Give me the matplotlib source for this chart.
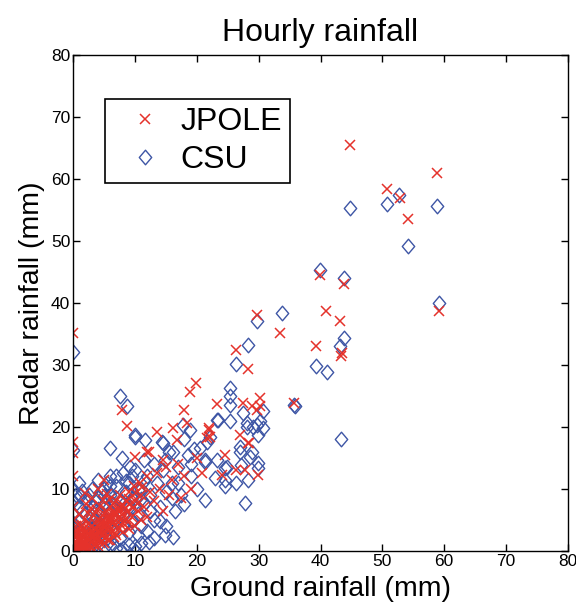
import numpy as np
import matplotlib
matplotlib.use("Agg")
import matplotlib.pyplot as plt
from matplotlib.path import Path

plt.rcParams['font.family'] = ['Liberation Sans', 'DejaVu Sans']

# hourly accumulations (ground gauge mm, radar mm)
jpole_pts = [
    # upper outliers
    (44.8, 65.5), (58.8, 60.9), (50.8, 58.4), (52.8, 56.9), (54.1, 53.5),
    (39.9, 44.5), (43.8, 43.0), (59.2, 38.7), (40.9, 38.7), (43.2, 37.1),
    (43.4, 31.9), (43.3, 31.5), (39.2, 33.1), (35.7, 23.8), (33.4, 35.1),
    (29.8, 38.1), (26.4, 32.4), (28.3, 29.4), (0.0, 35.2),
    # middle
    (19.9, 27.1), (18.9, 25.7), (23.2, 23.7), (17.9, 22.7), (27.5, 23.8),
    (29.7, 22.7), (30.2, 24.6), (28.9, 23.3), (30.2, 23.3), (21.9, 19.8),
    (22.1, 18.4), (16.2, 19.8), (18.4, 20.6), (24.6, 15.5), (27.0, 18.7),
    (28.3, 17.4), (11.9, 16.0), (10.0, 15.2), (14.6, 14.7), (16.8, 17.9),
    (21.6, 18.2), (21.9, 19.5), (28.5, 17.4), (26.4, 13.1), (27.8, 13.0),
    (29.9, 12.3), (24.0, 12.3), (20.8, 12.5), (7.9, 22.7), (8.7, 20.2),
    (13.5, 19.2), (12.2, 16.0), (0.0, 17.6), (0.0, 15.8), (1.9, 9.3),
    (0.0, 7.1), (19.0, 10.0), (20.0, 15.0), (17.5, 8.5), (18.0, 12.0),
    # dense cluster
    (0.0, 0.0), (0.2, 0.5), (0.3, 1.0), (0.5, 0.2), (0.5, 1.5), (0.8, 0.8),
    (1.0, 0.3), (1.0, 2.0), (1.2, 1.2), (1.5, 0.5), (1.5, 2.5), (1.8, 1.5),
    (2.0, 0.8), (2.0, 3.0), (2.2, 2.0), (2.5, 1.0), (2.5, 3.5), (2.8, 2.5),
    (3.0, 1.5), (3.0, 4.0), (3.2, 3.0), (3.5, 2.0), (3.5, 4.5), (3.8, 3.2),
    (4.0, 1.8), (4.0, 5.0), (4.2, 3.8), (4.5, 2.5), (4.5, 5.5), (4.8, 4.0),
    (5.0, 3.0), (5.0, 6.0), (5.2, 4.5), (5.5, 3.5), (5.5, 6.5), (5.8, 5.0),
    (6.0, 4.0), (6.0, 7.0), (6.2, 5.5), (6.5, 4.5), (6.5, 7.5), (6.8, 6.0),
    (7.0, 5.0), (7.0, 8.0), (7.2, 6.5), (7.5, 5.5), (7.5, 9.0), (7.8, 7.0),
    (8.0, 6.0), (8.0, 4.5), (8.5, 8.0), (8.8, 6.5), (9.0, 9.5), (9.2, 7.5),
    (9.5, 5.5), (9.8, 10.5), (10.0, 8.0), (10.5, 6.5), (10.8, 11.0),
    (11.0, 9.0), (11.5, 7.0), (12.0, 12.0), (12.5, 9.5), (13.0, 8.0),
    (13.5, 12.5), (14.0, 10.0), (14.5, 6.5), (15.0, 13.5), (15.5, 9.0),
    (16.0, 11.5), (17.0, 14.0), (0.1, 3.0), (0.2, 5.0), (0.5, 4.0),
    (1.0, 6.0), (2.0, 7.5), (3.0, 8.5), (4.0, 10.0), (5.0, 11.5), (0.0, 12.0),
    (1.0, 0.0), (2.0, 0.2), (3.0, 0.5), (4.0, 0.8), (5.0, 1.2), (6.0, 1.8),
    (7.0, 2.5), (8.0, 3.0), (9.0, 3.5), (10.0, 4.0), (11.0, 5.0), (12.0, 5.5),
    (0.3, 0.0), (0.6, 0.6), (1.3, 0.9), (1.7, 0.3), (2.3, 1.4), (2.7, 0.6),
    (3.3, 2.4), (3.7, 1.1), (4.3, 2.9), (4.7, 1.6), (5.3, 2.2), (5.7, 4.2),
    (6.3, 3.1), (6.7, 2.8), (1.1, 1.6), (1.6, 1.1), (2.1, 2.6), (2.6, 1.9),
    (3.1, 2.2), (3.6, 3.6), (4.1, 3.1), (4.6, 4.6), (5.1, 3.9), (5.6, 5.6),
    (6.1, 4.9), (6.6, 6.4), (7.1, 5.9), (7.6, 6.8), (8.1, 7.4), (8.6, 5.2),
    (9.1, 8.4), (9.6, 6.9), (10.2, 9.4), (10.7, 7.9), (11.2, 10.3),
    (0.4, 2.2), (0.9, 3.1), (1.4, 4.1), (1.9, 5.2), (2.4, 6.1), (2.9, 6.9),
    (3.4, 5.8), (3.9, 6.6), (4.4, 7.3), (4.9, 8.2), (5.4, 9.1), (5.9, 8.4),
    (0.1, 0.3), (0.4, 1.2), (0.7, 1.9), (1.2, 2.7), (1.6, 3.4), (2.1, 1.2),
    (2.4, 4.4), (2.9, 3.2), (3.3, 1.7), (3.6, 2.7), (4.1, 4.4), (4.4, 1.2),
    (4.9, 2.6), (5.4, 4.9), (5.9, 3.3), (6.4, 5.9), (6.9, 4.3), (7.4, 3.6),
    (7.9, 5.1), (8.4, 6.9), (0.6, 2.9), (1.3, 3.8), (1.8, 0.7), (2.6, 2.9),
    (3.4, 0.9), (4.6, 3.4), (5.6, 1.8), (6.6, 2.2), (7.7, 4.1), (8.9, 4.7),
]

csu_pts = [
    # upper outliers
    (44.7, 55.3), (50.8, 55.9), (52.7, 57.4), (58.8, 55.6), (54.2, 49.1),
    (39.9, 45.3), (43.8, 44.0), (59.2, 40.0), (43.8, 34.3), (43.2, 33.0),
    (39.2, 29.8), (41.0, 28.9), (35.7, 23.5), (43.3, 18.0), (33.7, 38.3),
    (29.8, 37.1), (28.3, 33.2), (26.3, 30.2), (25.4, 26.2), (25.4, 24.9),
    (35.9, 23.3), (0.0, 32.1), (7.6, 24.9), (8.7, 23.3),
    # middle
    (25.4, 23.5), (30.7, 22.5), (27.5, 22.2), (23.5, 21.1), (25.4, 20.9),
    (28.1, 20.6), (29.1, 20.0), (30.2, 20.9), (29.9, 18.7), (22.1, 18.4),
    (27.0, 16.8), (28.9, 16.0), (21.3, 14.7), (24.6, 13.3), (29.9, 13.3),
    (22.9, 11.7), (24.6, 10.4), (26.4, 10.9), (28.3, 11.5), (21.3, 8.2),
    (27.8, 7.7), (24.6, 11.5), (16.2, 2.3), (12.2, 1.5), (14.9, 14.7),
    (14.3, 17.6), (10.0, 18.7), (6.0, 16.6), (7.9, 15.0), (9.2, 13.6),
    (11.4, 14.7), (0.0, 16.3), (1.1, 8.8), (10.0, 18.4), (11.6, 17.9),
    (14.6, 17.4), (17.8, 20.3), (18.9, 19.5), (23.2, 21.1), (28.1, 20.0),
    (29.7, 20.3), (30.7, 19.8), (21.6, 17.6), (20.5, 16.6), (16.2, 16.0),
    (18.6, 15.5), (21.3, 14.4), (27.0, 16.0), (28.6, 15.2), (29.9, 14.1),
    (27.2, 13.9), (24.8, 13.6), (23.2, 14.7), (14.9, 2.6),
    # dense cluster
    (0.0, 0.5), (0.0, 1.5), (0.0, 3.0), (0.0, 4.5), (0.0, 6.0), (0.3, 0.2),
    (0.5, 2.0), (0.8, 1.0), (1.0, 3.5), (1.0, 5.0), (1.2, 0.3), (1.5, 2.5),
    (1.5, 6.5), (2.0, 1.0), (2.0, 4.0), (2.0, 8.0), (2.5, 2.5), (2.5, 5.5),
    (3.0, 0.5), (3.0, 3.5), (3.0, 7.0), (3.0, 10.0), (3.5, 2.0), (3.5, 5.0),
    (4.0, 1.0), (4.0, 4.0), (4.0, 8.5), (4.0, 11.5), (4.5, 2.5), (4.5, 6.0),
    (5.0, 0.5), (5.0, 3.5), (5.0, 7.5), (5.0, 10.0), (5.5, 5.0), (5.5, 2.0),
    (6.0, 1.0), (6.0, 4.0), (6.0, 6.5), (6.0, 9.0), (6.0, 12.0), (6.5, 3.0),
    (6.5, 7.5), (7.0, 0.5), (7.0, 5.0), (7.0, 10.5), (7.5, 2.0), (7.5, 8.0),
    (8.0, 4.0), (8.0, 6.0), (8.0, 12.5), (8.5, 9.5), (9.0, 3.0), (9.0, 7.0),
    (9.0, 11.0), (9.5, 5.0), (10.0, 8.5), (10.0, 13.0), (10.5, 6.0),
    (10.5, 2.5), (11.0, 10.0), (11.0, 4.0), (11.5, 7.5), (12.0, 12.0),
    (12.5, 9.0), (13.0, 5.0), (13.0, 14.0), (13.5, 11.0), (14.0, 7.0),
    (14.5, 13.0), (15.0, 9.5), (15.0, 4.0), (15.5, 16.0), (16.0, 11.0),
    (16.5, 6.5), (17.0, 13.5), (17.5, 9.0), (18.0, 18.0), (18.0, 7.5),
    (19.0, 12.0), (19.5, 16.5), (20.0, 10.0), (0.0, 8.0), (0.0, 10.0),
    (0.5, 9.0), (1.0, 11.0), (8.0, 0.5), (9.0, 1.0), (10.0, 0.8),
    (11.0, 1.2), (13.0, 2.0), (10.0, 0.0), (7.5, 0.2), (1.5, 1.5),
    (2.5, 0.8), (3.5, 3.2), (4.5, 4.2), (5.5, 6.8), (6.5, 5.2), (7.5, 6.2),
    (8.5, 7.2), (9.5, 8.6), (10.5, 9.8), (11.5, 11.2), (12.5, 6.4),
    (2.0, 6.0), (3.0, 5.6), (4.0, 6.8), (5.0, 8.8), (6.0, 10.4), (7.0, 8.6),
    (0.5, 3.8), (1.0, 7.2), (1.5, 9.6), (2.5, 9.0), (3.5, 8.0), (4.5, 9.6),
    (5.5, 11.0), (7.0, 12.0), (8.5, 11.2), (9.5, 12.0), (11.0, 8.4),
    (12.0, 3.2), (14.0, 4.8), (16.0, 8.6), (17.0, 11.0), (19.0, 14.0),
]

jpole_ground, jpole_radar = np.array(jpole_pts).T
csu_ground, csu_radar = np.array(csu_pts).T

ticks = [0, 10, 20, 30, 40, 50, 60, 70, 80]

red = '#e5322b'
blue = '#3d55a5'

diamond = Path([(0, 1), (0.85, 0), (0, -1), (-0.85, 0), (0, 1)],
               [Path.MOVETO, Path.LINETO, Path.LINETO, Path.LINETO, Path.CLOSEPOLY])

fig = plt.figure(figsize=(5.76, 6.10), dpi=100)
ax = fig.add_axes([0.127, 0.097, 0.859, 0.813])

h_csu, = ax.plot(csu_ground, csu_radar, linestyle='none', marker=diamond,
                 markersize=10.5, markerfacecolor='none', markeredgecolor=blue,
                 markeredgewidth=1.0, label='CSU')
h_jp, = ax.plot(jpole_ground, jpole_radar, linestyle='none', marker='x',
                markersize=6.5, color=red, markeredgewidth=1.1, label='JPOLE')

ax.set_xlim(0, 80)
ax.set_ylim(0, 80)
ax.set_xticks(ticks)
ax.set_yticks(ticks)
ax.tick_params(direction='in', length=5, width=1, top=True, right=True,
               labelsize=12.5, pad=2)
for s in ax.spines.values():
    s.set_linewidth(1)

ax.set_title('Hourly rainfall', fontsize=23, pad=10)
ax.set_xlabel('Ground rainfall (mm)', fontsize=20.5, labelpad=5)
ax.set_ylabel('Radar rainfall (mm)', fontsize=20.5, labelpad=4)

leg = ax.legend([h_jp, h_csu], ['JPOLE', 'CSU'], loc='upper left',
                bbox_to_anchor=(0.065, 0.911), borderaxespad=0, fontsize=23,
                fancybox=False, framealpha=1, edgecolor='black',
                handletextpad=0.1, borderpad=0.25, labelspacing=0.25,
                handlelength=2.0)
leg.get_frame().set_linewidth(1.2)

fig.savefig('out.png', dpi=100)
